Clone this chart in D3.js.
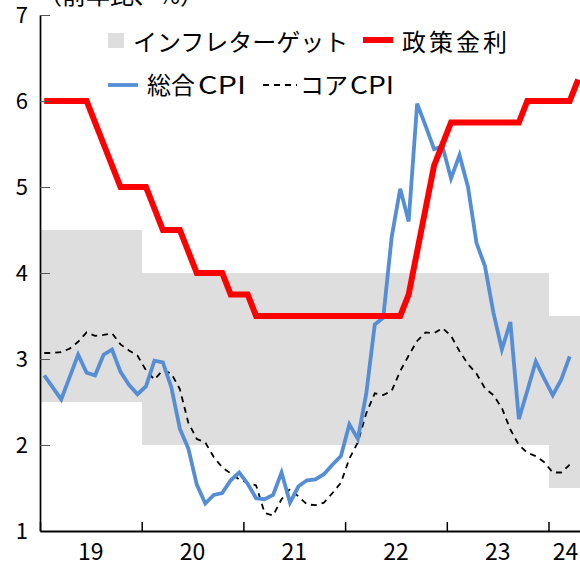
<!DOCTYPE html>
<html lang="ja">
<head>
    <meta charset="UTF-8">
    <script src="https://d3js.org/d3.v7.min.js"></script>
    <style>
        body {
            margin: 0;
            background: white;
        }
        svg {
            display: block;
            font-family: "Noto Sans CJK JP", sans-serif;
        }
        .legend text {
            font-size: 24px;
        }
    </style>
</head>
<body>
    <div id="chart"></div>

    <script>
        // 年ラベルと各年の月数（24年は4月まで）
        const years = ["19", "20", "21", "22", "23", "24"];
        const monthsPerYear = [12, 12, 12, 12, 12, 4];

        // インフレターゲット（上限・下限）
        const targetHigh = [4.5, 4, 4, 4, 4, 3.5];
        const targetLow = [2.5, 2, 2, 2, 2, 1.5];

        // 政策金利（月次、19年1月〜24年4月）
        const policyRate = [
            6, 6, 6, 6, 6, 6, 5.75, 5.5, 5.25, 5, 5, 5,
            5, 4.75, 4.5, 4.5, 4.5, 4.25, 4, 4, 4, 4, 3.75, 3.75,
            3.75, 3.5, 3.5, 3.5, 3.5, 3.5, 3.5, 3.5, 3.5, 3.5, 3.5, 3.5,
            3.5, 3.5, 3.5, 3.5, 3.5, 3.5, 3.5, 3.75, 4.25, 4.75, 5.25, 5.5,
            5.75, 5.75, 5.75, 5.75, 5.75, 5.75, 5.75, 5.75, 5.75, 6, 6, 6,
            6, 6, 6, 6.25
        ];

        // 総合CPI（前年比、19年1月〜24年3月）
        const headlineCPI = [
            2.81, 2.67, 2.53, 2.79, 3.05, 2.84, 2.81, 3.05, 3.11, 2.85, 2.70, 2.59,
            2.68, 2.98, 2.96, 2.67, 2.19, 1.96, 1.54, 1.32, 1.42, 1.44, 1.59, 1.68,
            1.55, 1.38, 1.37, 1.42, 1.68, 1.33, 1.52, 1.59, 1.60, 1.66, 1.77, 1.87,
            2.24, 2.07, 2.60, 3.40, 3.48, 4.42, 4.98, 4.60, 5.97, 5.71, 5.44, 5.47,
            5.10, 5.37, 5.00, 4.35, 4.08, 3.54, 3.11, 3.43, 2.30, 2.63, 2.97, 2.77,
            2.58, 2.76, 3.03
        ];

        // コアCPI（前年比、19年1月〜24年3月）
        const coreCPI = [
            3.07, 3.07, 3.08, 3.12, 3.20, 3.31, 3.27, 3.28, 3.30, 3.17, 3.10, 3.04,
            2.87, 2.76, 2.87, 2.83, 2.65, 2.26, 2.07, 2.03, 1.86, 1.74, 1.67, 1.60,
            1.56, 1.53, 1.21, 1.18, 1.37, 1.49, 1.40, 1.31, 1.30, 1.33, 1.44, 1.56,
            1.84, 2.03, 2.37, 2.60, 2.58, 2.63, 2.86, 3.04, 3.21, 3.31, 3.30, 3.36,
            3.27, 3.09, 2.94, 2.83, 2.66, 2.58, 2.43, 2.18, 2.00, 1.91, 1.87, 1.80,
            1.68, 1.68, 1.77
        ];

        const width = 580, height = 563;
        const nMonths = d3.sum(monthsPerYear);

        const svg = d3.select("#chart").append("svg")
            .attr("width", width)
            .attr("height", height);

        // 月をカテゴリとして扱う（点は各月の中央）
        const x = d3.scaleLinear()
            .domain([0, nMonths])
            .range([40, 582.4]);
        const xm = i => x(i + 0.5);

        const y = d3.scaleLinear()
            .domain([1, 7])
            .range([531, 15]);

        // 年の区切り
        const yearStart = d3.cumsum([0, ...monthsPerYear]);

        // インフレターゲットの帯
        svg.append("g")
            .selectAll("rect")
            .data(years)
            .enter().append("rect")
            .attr("x", (d, i) => x(yearStart[i]))
            .attr("width", (d, i) => x(yearStart[i + 1]) - x(yearStart[i]))
            .attr("y", (d, i) => y(targetHigh[i]))
            .attr("height", (d, i) => y(targetLow[i]) - y(targetHigh[i]))
            .attr("fill", "#dedede")
            .attr("shape-rendering", "crispEdges");

        // 線
        const line = d3.line()
            .x((d, i) => xm(i))
            .y(d => y(d));

        svg.append("path")
            .datum(coreCPI)
            .attr("fill", "none")
            .attr("stroke", "#000")
            .attr("stroke-width", 1.8)
            .attr("stroke-dasharray", "6,5")
            .attr("d", line);

        svg.append("path")
            .datum(headlineCPI)
            .attr("fill", "none")
            .attr("stroke", "#558ed5")
            .attr("stroke-width", 3.8)
            .attr("d", line);

        svg.append("path")
            .datum(policyRate)
            .attr("fill", "none")
            .attr("stroke", "#ff0000")
            .attr("stroke-width", 6)
            .attr("d", line);

        // Y軸
        const yAxis = svg.append("g")
            .attr("transform", "translate(40,0)")
            .call(d3.axisLeft(y).ticks(6).tickSizeInner(-10).tickSizeOuter(0).tickPadding(12));
        yAxis.select(".domain").attr("stroke", "#000").attr("stroke-width", 1.7);
        yAxis.selectAll(".tick line").attr("stroke", "#555").attr("stroke-width", 1);
        yAxis.selectAll(".tick text")
            .attr("font-family", "'Noto Sans CJK JP', sans-serif")
            .attr("font-size", 22)
            .attr("fill", "#000");

        // X軸（年の区切りに目盛り）
        const xAxis = svg.append("g")
            .attr("transform", "translate(0,531)")
            .call(d3.axisBottom(x).tickValues(yearStart.slice(0, -1)).tickSizeInner(-9).tickSizeOuter(0).tickFormat(""));
        xAxis.select(".domain").attr("stroke", "#000").attr("stroke-width", 2);
        xAxis.selectAll(".tick line").attr("stroke", "#000").attr("stroke-width", 1.5);

        svg.append("g")
            .selectAll("text")
            .data(years)
            .enter().append("text")
            .attr("x", (d, i) => (x(yearStart[i]) + x(yearStart[i + 1])) / 2)
            .attr("y", 560)
            .attr("text-anchor", "middle")
            .attr("font-size", 23)
            .text(d => d);

        // 単位（上端で切れている）
        svg.append("text")
            .attr("x", 38)
            .attr("y", 4)
            .attr("font-size", 24)
            .text("（前年比、%）");

        // 凡例
        const legend = svg.append("g").attr("class", "legend");

        legend.append("rect")
            .attr("x", 108).attr("y", 33)
            .attr("width", 16).attr("height", 15)
            .attr("fill", "#dedede");
        legend.append("text")
            .attr("x", 133).attr("y", 51)
            .text("インフレターゲット");

        legend.append("line")
            .attr("x1", 363).attr("x2", 393)
            .attr("y1", 40).attr("y2", 40)
            .attr("stroke", "#ff0000").attr("stroke-width", 6);
        legend.append("text")
            .attr("x", 402).attr("y", 51)
            .attr("letter-spacing", 3)
            .text("政策金利");

        legend.append("line")
            .attr("x1", 108).attr("x2", 138)
            .attr("y1", 85).attr("y2", 85)
            .attr("stroke", "#558ed5").attr("stroke-width", 3.8);
        const t1 = legend.append("text")
            .attr("x", 147).attr("y", 94);
        t1.append("tspan").text("総合");
        t1.append("tspan")
            .attr("dx", 3)
            .attr("textLength", 48)
            .attr("lengthAdjust", "spacingAndGlyphs")
            .text("CPI");

        legend.append("line")
            .attr("x1", 263).attr("x2", 297)
            .attr("y1", 85).attr("y2", 85)
            .attr("stroke", "#000").attr("stroke-width", 1.8)
            .attr("stroke-dasharray", "6,5");
        const t2 = legend.append("text")
            .attr("x", 300).attr("y", 94);
        t2.append("tspan").text("コア");
        t2.append("tspan")
            .attr("dx", 2)
            .attr("textLength", 44)
            .attr("lengthAdjust", "spacingAndGlyphs")
            .text("CPI");
    </script>
</body>
</html>
